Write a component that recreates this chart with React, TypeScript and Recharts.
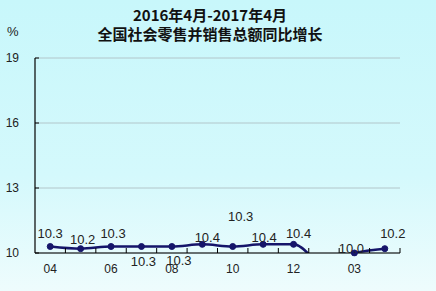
import React from "react";
import { LineChart, Line, XAxis, YAxis, CartesianGrid, LabelList } from "recharts";

const months = ["04", "05", "06", "07", "08", "09", "10", "11", "12", "01-02", "03", "04"];
const growth = [10.3, 10.2, 10.3, 10.3, 10.3, 10.4, 10.3, 10.4, 10.4, 9.5, 10.0, 10.2];
const yTicks = [10, 13, 16, 19];
const titleLines = ["2016年4月-2017年4月", "全国社会零售并销售总额同比增长"];

const data = months.map((m, i) => ({ month: m, value: growth[i] }));

const CHART_W = 436;
const PLOT_LEFT = 35;
const PLOT_RIGHT = 36;
const HALF_BAND = (CHART_W - PLOT_LEFT - PLOT_RIGHT) / months.length / 2;

// hand placed label offsets (dx, dy) from each point, like the original
const labelOffset: [number, number][] = [
	[0, -14],
	[2, -10],
	[2, -14],
	[2, 14],
	[7, 13],
	[5, -7],
	[8, -31],
	[1, -7],
	[5, -11],
	[0, 0],
	[-3, -5],
	[8, -16],
];

const NAVY = "#15156a";
const TEXT = "#222";
const NUM_FONT = "'Liberation Sans', Arial, sans-serif";

const XTick = (props: any) => {
	const { x, y, payload, index } = props;
	return (
		<g>
			<line x1={x + HALF_BAND} x2={x + HALF_BAND} y1={y} y2={y - 5} stroke="#000" strokeWidth={1} />
			{index % 2 === 0 && (
				<text x={x} y={y + 20} textAnchor="middle" fontSize={12} fill={TEXT} fontFamily={NUM_FONT}>
					{payload.value}
				</text>
			)}
		</g>
	);
};

const YTick = (props: any) => {
	const { x, y, payload } = props;
	return (
		<g>
			<line x1={x} x2={x + 4} y1={y} y2={y} stroke="#000" strokeWidth={1} />
			<text x={x - 16} y={y + 4} textAnchor="end" fontSize={12} fill={TEXT} fontFamily={NUM_FONT}>
				{payload.value}
			</text>
		</g>
	);
};

const renderLabel = (props: any) => {
	const { x, y, value, index } = props;
	if (value < 10) return null;
	const [dx, dy] = labelOffset[index] ?? [0, -12];
	return (
		<text
			x={x + dx}
			y={y + dy + 5}
			textAnchor="middle"
			fontSize={13}
			fill={TEXT}
			fontFamily={NUM_FONT}>
			{Number(value).toFixed(1)}
		</text>
	);
};

export default function App() {
	return (
		<div
			style={{
				position: "absolute",
				left: 0,
				top: 0,
				width: 436,
				height: 291,
				background: "linear-gradient(180deg, #c8f7fb 0%, #d4f9fc 60%, #eefcfd 100%)",
				overflow: "hidden",
			}}>
			<div
				style={{
					position: "absolute",
					left: 0,
					width: 420,
					top: 5,
					textAlign: "center",
					fontFamily: "'Noto Sans CJK SC', sans-serif",
					fontWeight: 700,
					fontSize: 15,
					lineHeight: "19px",
					color: "#111",
				}}>
				<div>{titleLines[0]}</div>
				<div>{titleLines[1]}</div>
			</div>
			<div
				style={{
					position: "absolute",
					left: 7,
					top: 24,
					fontFamily: NUM_FONT,
					fontSize: 13,
					color: TEXT,
				}}>
				%
			</div>
			<LineChart
				width={CHART_W}
				height={291}
				data={data}
				margin={{ top: 58, right: PLOT_RIGHT, left: 0, bottom: 8 }}
				style={{ position: "absolute", left: 0, top: 0 }}>
				<CartesianGrid vertical={false} stroke="#b2c6ca" strokeWidth={1} />
				<XAxis
					dataKey="month"
					interval={0}
					height={30}
					padding={{ left: HALF_BAND, right: HALF_BAND }}
					tickSize={0}
					tickMargin={0}
					tickLine={false}
					axisLine={{ stroke: "#000", strokeWidth: 1.2 }}
					tick={<XTick />}
				/>
				<YAxis
					width={PLOT_LEFT}
					domain={[10, 19]}
					ticks={yTicks}
					allowDataOverflow
					tickSize={0}
					tickMargin={0}
					tickLine={false}
					axisLine={{ stroke: "#000", strokeWidth: 1.2 }}
					tick={<YTick />}
				/>
				<Line
					type="monotone"
					dataKey="value"
					stroke={NAVY}
					strokeWidth={2.5}
					dot={{ r: 3, fill: NAVY, stroke: NAVY, strokeWidth: 1, clipDot: false }}
					isAnimationActive={false}>
					<LabelList dataKey="value" content={renderLabel} />
				</Line>
			</LineChart>
		</div>
	);
}
